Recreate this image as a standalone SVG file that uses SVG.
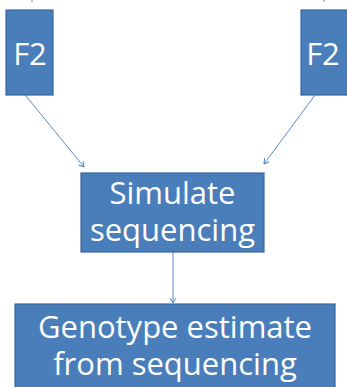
<svg xmlns="http://www.w3.org/2000/svg" width="347" height="387" viewBox="0 0 347 387">
<defs>
<style>
.box{fill:#4A7EBB;stroke:#3A679E;stroke-width:1.2}
.lbl{font-family:"Open Sans","Liberation Sans",sans-serif;font-size:31px;fill:#ffffff;text-anchor:middle}
.con{stroke:#4A7EBB;stroke-width:0.9;fill:none}
</style>
<marker id="arr" markerWidth="8" markerHeight="8" refX="6" refY="4" orient="auto" markerUnits="userSpaceOnUse">
<path d="M1,1 L6,4 L1,7" fill="none" stroke="#4A7EBB" stroke-width="0.9"/>
</marker>
</defs>
<g id="connectors">
<line class="con" x1="32" y1="0" x2="32" y2="2"/>
<line class="con" x1="324" y1="0" x2="324" y2="2"/>
<line class="con" x1="17" y1="85" x2="84" y2="167" marker-end="url(#arr)"/>
<line class="con" x1="324" y1="83" x2="264" y2="164" marker-end="url(#arr)"/>
<line class="con" x1="173" y1="252" x2="173" y2="303" marker-end="url(#arr)"/>
</g>
<g id="f2-left">
<rect class="box" x="6" y="10" width="47" height="85"/>
<text class="lbl" x="30" y="65">F2</text>
</g>
<g id="f2-right">
<rect class="box" x="301" y="10" width="47" height="85"/>
<text class="lbl" x="323" y="65">F2</text>
</g>
<g id="simulate">
<rect class="box" x="81" y="173" width="183" height="79"/>
<text class="lbl" x="172.5" y="204">Simulate</text>
<text class="lbl" x="172.5" y="241">sequencing</text>
</g>
<g id="genotype">
<rect class="box" x="15" y="304" width="320" height="90"/>
<text class="lbl" x="175" y="338">Genotype estimate</text>
<text class="lbl" x="175" y="375">from sequencing</text>
</g>
</svg>
